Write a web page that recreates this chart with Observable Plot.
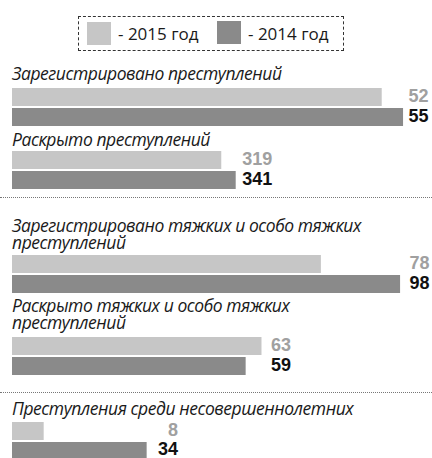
<!DOCTYPE html>
<html><head><meta charset="utf-8">
<script src="https://cdn.jsdelivr.net/npm/d3@7"></script>
<script src="https://cdn.jsdelivr.net/npm/@observablehq/plot@0.6"></script>
<style>
body{margin:0;background:#fff;width:432px;height:458px;overflow:hidden;position:relative;font-family:"Open Sans",sans-serif}
.title{position:absolute;left:12px;font-style:italic;font-size:17.5px;letter-spacing:-0.45px;color:#1a1a1a;line-height:17px;white-space:pre}
.sep{position:absolute;left:0;width:432px;height:0;border-top:1.5px dotted #777}
.legend{position:absolute;left:78px;top:16px;width:264px;height:33px;border:1.5px dashed #333}
.sw{position:absolute;width:24px;height:23px}
.lt{position:absolute;font-size:17px;line-height:17px;color:#1a1a1a;white-space:nowrap}
.plotwrap{position:absolute;left:0}
.plotwrap svg{overflow:visible}
</style></head><body>
<script>
// ---- data ----
const years = ["2015", "2014"];
const legendLabels = ["- 2015 год", "- 2014 год"];
const sectionTitles = [
  "Зарегистрировано преступлений",
  "Раскрыто преступлений",
  "Зарегистрировано тяжких и особо тяжких\nпреступлений",
  "Раскрыто тяжких и особо тяжких\nпреступлений",
  "Преступления среди несовершеннолетних"
];
const values2015 = [52, 319, 78, 63, 8];
const values2014 = [55, 341, 98, 59, 34];

// ---- styles / layout ----
const lightColor = "#c6c6c6", darkColor = "#8a8a8a";
const lightText = "#a0a0a0", darkText = "#111111";
const layout = [
  {titleTop: 65,  plotTop: 88,  k: 7.11,  dx: 25, dy1: -1,   dy2: -1.5},
  {titleTop: 131, plotTop: 151, k: 0.656, dx: 36, dy1: -1,   dy2: -1.5},
  {titleTop: 217, plotTop: 255, k: 3.96,  dx: 29, dy1: -1,   dy2: -1.5},
  {titleTop: 297, plotTop: 337, k: 3.96,  dx: 29, dy1: -1,   dy2: -1.5},
  {titleTop: 400, plotTop: 422, k: 3.96,  dx: 31, dy1: -1.5, dy2: -2.5}
];
const separators = [197, 392];
const pad = 4;

const body = document.body;
function el(cls, style, text) {
  const d = document.createElement("div");
  d.className = cls;
  Object.assign(d.style, style);
  if (text != null) d.textContent = text;
  body.appendChild(d);
  return d;
}

// legend
el("legend", {});
el("sw", {left: "87px", top: "22px", background: lightColor});
el("lt", {left: "118px", top: "25px"}, legendLabels[0]);
el("sw", {left: "217px", top: "21px", background: darkColor});
el("lt", {left: "248px", top: "25px"}, legendLabels[1]);

separators.forEach(y => el("sep", {top: y + "px"}));

const labelFont = {fontWeight: "bold", fontSize: 18, fontFamily: "Liberation Sans, Arial, sans-serif"};

sectionTitles.forEach((t, i) => {
  const L = layout[i];
  el("title", {top: L.titleTop + "px"}, t);
  const rows = [
    {year: years[0], value: values2015[i]},
    {year: years[1], value: values2014[i]}
  ];
  const maxV = Math.max(values2015[i], values2014[i]);
  const D = 100;
  const chart = Plot.plot({
    width: 432, height: 38 + 2 * pad, marginTop: pad, marginBottom: pad, marginLeft: 0, marginRight: 0,
    x: {domain: [0, D], range: [12, 12 + D * L.k], axis: null},
    y: {domain: years, paddingInner: 0.1, paddingOuter: 0, axis: null},
    marks: [
      Plot.barX(rows.filter(d => d.year === years[0]), {x: "value", y: "year", fill: lightColor}),
      Plot.barX(rows.filter(d => d.year === years[1]), {x: "value", y: "year", fill: darkColor}),
      Plot.text(rows.filter(d => d.year === years[0]), {x: () => maxV, y: "year", text: d => String(d.value), textAnchor: "end", dx: L.dx, dy: L.dy1, fill: lightText, ...labelFont}),
      Plot.text(rows.filter(d => d.year === years[1]), {x: () => maxV, y: "year", text: d => String(d.value), textAnchor: "end", dx: L.dx, dy: L.dy2, fill: darkText, ...labelFont})
    ]
  });
  const w = el("plotwrap", {top: (L.plotTop - pad) + "px"});
  w.appendChild(chart);
});
</script>
</body></html>
